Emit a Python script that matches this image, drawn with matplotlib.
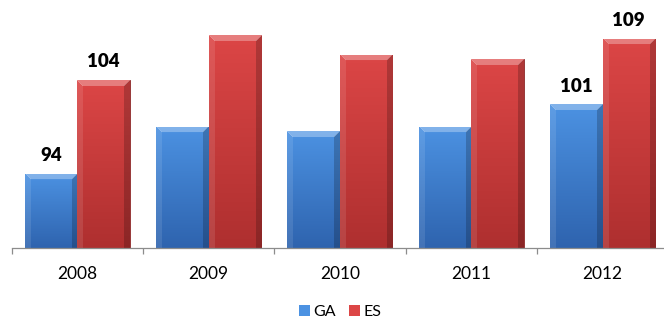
import numpy as np
import matplotlib
matplotlib.use("Agg")
import matplotlib.pyplot as plt
from matplotlib.patches import Patch

# ---- data ----
years = ["2008", "2009", "2010", "2011", "2012"]
ga_values = [93.7, 98.9, 98.4, 98.9, 101.4]
es_values = [104.1, 109.1, 106.9, 106.4, 108.7]
labeled_years = ["2008", "2012"]
series_names = ["GA", "ES"]

plt.rcParams['font.family'] = ['Lato', 'DejaVu Sans']

W, H = 664, 320
fig = plt.figure(figsize=(W / 100, H / 100), dpi=100)
ax = fig.add_axes([11.7 / W, 72 / H, 656.5 / W, 248 / H])

x = np.arange(len(years))
bw = 0.4
blue_top, blue_bot = np.array([0x4C, 0x92, 0xE2]) / 255, np.array([0x2E, 0x63, 0xAE]) / 255
red_top, red_bot = np.array([0xDC, 0x46, 0x46]) / 255, np.array([0xAE, 0x2F, 0x2F]) / 255

bars_ga = ax.bar(x - bw / 2, ga_values, bw, color=blue_bot, edgecolor='#2A5590',
                 linewidth=0.6, zorder=2)
bars_es = ax.bar(x + bw / 2, es_values, bw, color=red_bot, edgecolor='#8E2A2A',
                 linewidth=0.6, zorder=2)

ylo, yhi = 85.44, 113.0
ax.set_xlim(-0.5, len(years) - 0.5)
ax.set_ylim(ylo, yhi)


def mix(c, t, f):
    return c * (1 - f) + t * f


def shade(bar, top, bot):
    x0 = bar.get_x()
    x1 = x0 + bar.get_width()
    y1 = bar.get_height()
    y0 = ylo
    p0 = ax.transData.transform((x0, y0))
    p1 = ax.transData.transform((x1, y1))
    wpx = max(int(round(abs(p1[0] - p0[0]))), 2)
    hpx = max(int(round(abs(p1[1] - p0[1]))), 2)
    r = np.arange(hpx)[:, None] * np.ones((1, wpx))
    c = np.ones((hpx, 1)) * np.arange(wpx)[None, :]
    t = (r / hpx)[..., None]
    img = top[None, None, :] * (1 - t) + bot[None, None, :] * t
    e = 6
    white = np.ones(3)
    black = np.zeros(3)
    left = (c < e) & (r >= c)
    right = (c >= wpx - e) & (r >= (wpx - 1 - c))
    topb = (r < e) & (c >= r) & (c < wpx - r)
    img[left] = mix(img[left], white, 0.10)
    img[right] = mix(img[right], black, 0.20)
    img[topb] = mix(img[topb], white, 0.30)
    im = ax.imshow(img, extent=(x0, x1, y0, y1), origin='upper', aspect='auto',
                   interpolation='bilinear', zorder=2.5)
    im.set_clip_path(bar)


for b in bars_ga:
    shade(b, blue_top, blue_bot)
for b in bars_es:
    shade(b, red_top, red_bot)

ax.set_xlim(-0.5, len(years) - 0.5)
ax.set_ylim(ylo, yhi)

# data labels
for i, yr in enumerate(years):
    if yr in labeled_years:
        for b, v in ((bars_ga[i], ga_values[i]), (bars_es[i], es_values[i])):
            ax.annotate(f"{v:.0f}", (b.get_x() + b.get_width() / 2, v),
                        xytext=(0, 7), textcoords='offset points',
                        ha='center', va='bottom', fontsize=13.5,
                        fontweight='heavy', color='black', zorder=5)

# axes styling
for s in ['top', 'right', 'left']:
    ax.spines[s].set_visible(False)
ax.spines['bottom'].set_color('#8C8C8C')
ax.spines['bottom'].set_linewidth(0.9)
ax.set_yticks([])
ax.set_xticks(x)
ax.set_xticklabels(years, fontsize=12.5, color='black')
ax.tick_params(axis='x', which='major', length=0, pad=13)
ax.set_xticks(np.arange(len(years) + 1) - 0.5, minor=True)
ax.tick_params(axis='x', which='minor', length=4, width=0.9, color='#8C8C8C', direction='out')

handles = [Patch(facecolor=blue_top, edgecolor='none'), Patch(facecolor=red_top, edgecolor='none')]
fig.legend(handles, series_names, loc='center', bbox_to_anchor=((11.7 + 656.5 / 2) / W, 1 - 312 / H),
           ncol=2, frameon=False, fontsize=11.5, handlelength=0.7, handleheight=0.7,
           handletextpad=0.2, columnspacing=0.8, borderpad=0)

fig.savefig("out.png", dpi=100)
